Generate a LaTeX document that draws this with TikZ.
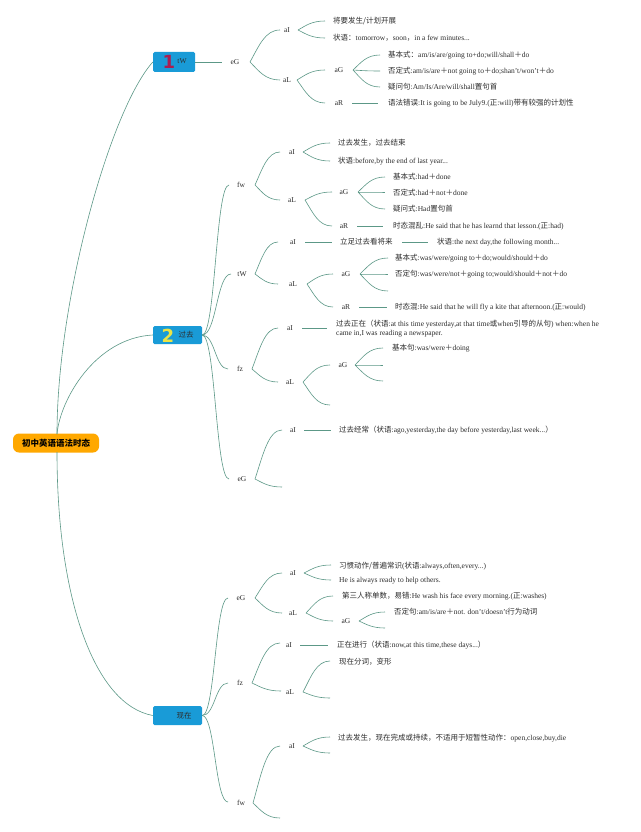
\documentclass[tikz,border=0pt]{standalone}
\usepackage{fontspec}
\setmainfont{Liberation Serif}
\newfontfamily\cjk{Noto Sans CJK SC}
\newfontfamily\digf{DejaVu Sans}
\usetikzlibrary{calc}
\definecolor{linkc}{RGB}{92,152,135}
\definecolor{boxc}{RGB}{25,155,215}
\definecolor{rootc}{RGB}{255,168,0}
\definecolor{txtc}{RGB}{45,45,45}
\definecolor{redc}{RGB}{170,30,80}
\definecolor{yelc}{RGB}{235,228,70}
\newcommand\zh[1]{{\cjk #1}}
\tikzset{
  lk/.style={draw=linkc, line width=0.6pt},
  fork/.style={to path={let \p1=(\tikztostart),\p2=(\tikztotarget) in
     .. controls ({\x1+0.3*(\x2-\x1)},{\y1+0.5*(\y2-\y1)}) and ({\x1+0.5*(\x2-\x1)},\y2) .. (\tikztotarget)}},
  scurve/.style={to path={let \p1=(\tikztostart),\p2=(\tikztotarget) in
     .. controls ({0.5*\x1+0.5*\x2},\y1) and ({0.5*\x1+0.5*\x2},\y2) .. (\tikztotarget)}},
  lb/.style={inner sep=0pt, font=\fontsize{7.5}{9}\selectfont, text=txtc},
  tx/.style={anchor=west, inner sep=0pt, font=\fontsize{7.5}{9}\selectfont, text=txtc},
  mbox/.style={fill=boxc, rounded corners=1.5pt, inner sep=0pt},
  rootbox/.style={fill=rootc, rounded corners=6pt, minimum width=86pt, minimum height=19pt, inner sep=0pt, font=\fontsize{8.5}{10}\selectfont, text=black},
  dig/.style={inner sep=0pt, font=\digf\bfseries\fontsize{18}{18}\selectfont},
}
\begin{document}
\begin{tikzpicture}[x=1pt,y=-1pt]
\useasboundingbox (0,0) rectangle (640,832);
\fill[white] (0,0) rectangle (640,832);

% root
\node[rootbox] (root) at (56,443) {\zh{\bfseries 初中英语语法时态}};
\coordinate (rT) at (57,434);
\coordinate (rB) at (57,452);

% main boxes
\node[mbox, minimum width=42pt, minimum height=20pt] (b1) at (174,62) {};
\node[mbox, minimum width=49pt, minimum height=18pt] (b2) at (177.5,335) {};
\node[mbox, minimum width=49pt, minimum height=19pt] (b3) at (177.5,715.5) {};
\node[dig, text=redc] (d1) at (169,62) {1};
\node[lb] (b1t) at (182,61) {tW};
\node[dig, text=yelc] (d2) at (168,335.5) {2};
\node[lb] (b2t) at (186,335) {\zh{过去}};
\node[lb] (b3t) at (184,716) {\zh{现在}};

\draw[lk] (rT) .. controls (57,300) and (110,110) .. (b1.west);
\draw[lk] (rT) .. controls (60,400) and (95,338) .. (b2.west);
\draw[lk] (rB) .. controls (57,600) and (95,705) .. (b3.west);

% ===== branch 1 =====
\coordinate (e1) at (222,62);
\draw[lk] (b1.east) -- (e1);
\node[lb] (n1) at (235,62) {eG};
\coordinate (f1) at (250,62);
\node[lb] (n11) at (287,30) {aI};
\coordinate (i11) at (280,30); \coordinate (f11) at (298,30);
\node[lb] (n12) at (287,80) {aL};
\coordinate (i12) at (280,80); \coordinate (f12) at (297,80);
\draw[lk] (f1) to[fork] (i11);
\draw[lk] (f1) to[fork] (i12);
\coordinate (c111) at (325,21); \coordinate (c112) at (325,38);
\draw[lk] (f11) to[fork] (c111);
\draw[lk] (f11) to[fork] (c112);
\node[tx] (t111) at (333,21) {\zh{将要发生/计划开展}};
\node[tx] (t112) at (333,38) {\zh{状语：}tomorrow\zh{，}soon\zh{，}in a few minutes...};
\node[lb] (n121) at (339,70) {aG};
\coordinate (i121) at (325,70); \coordinate (f121) at (353,70);
\node[lb] (n122) at (339,103) {aR};
\coordinate (i122) at (325,103); \coordinate (f122) at (352,103);
\draw[lk] (f12) to[fork] (i121);
\draw[lk] (f12) to[fork] (i122);
\coordinate (c1211) at (380,55); \coordinate (c1212) at (380,71); \coordinate (c1213) at (380,87);
\draw[lk] (f121) to[fork] (c1211);
\draw[lk] (f121) to[fork] (c1212);
\draw[lk] (f121) to[fork] (c1213);
\node[tx] (t1211) at (388,55) {\zh{基本式：}am/is/are/going to+do;will/shall\zh{＋}do};
\node[tx] (t1212) at (388,71) {\zh{否定式}:am/is/are\zh{＋}not going to\zh{＋}do;shan't/won't\zh{＋}do};
\node[tx] (t1213) at (388,87) {\zh{疑问句}:Am/Is/Are/will/shall\zh{置句首}};
\coordinate (c1221) at (378,103);
\draw[lk] (f122) -- (c1221);
\node[tx] (t1221) at (388,103) {\zh{语法错误}:It is going to be July9.(\zh{正}:will)\zh{带有较强的计划性}};

% ===== branch 2 =====
% fw
\node[lb] (p1) at (241,185) {fw};
\coordinate (pi1) at (229,185); \coordinate (pf1) at (255,185);
\draw[lk] (b2.east) to[scurve] (pi1);
\node[lb] (p11) at (292,152) {aI};
\coordinate (pi11) at (280,152); \coordinate (pf11) at (303,152);
\node[lb] (p12) at (292,200) {aL};
\coordinate (pi12) at (280,200); \coordinate (pf12) at (305,200);
\draw[lk] (pf1) to[fork] (pi11);
\draw[lk] (pf1) to[fork] (pi12);
\coordinate (pc111) at (330,143); \coordinate (pc112) at (330,161);
\draw[lk] (pf11) to[fork] (pc111);
\draw[lk] (pf11) to[fork] (pc112);
\node[tx] (pt111) at (338,143) {\zh{过去发生，过去结束}};
\node[tx] (pt112) at (338,161) {\zh{状语}:before,by the end of last year...};
\node[lb] (p121) at (344,192) {aG};
\coordinate (pi121) at (332,192); \coordinate (pf121) at (358,192);
\node[lb] (p122) at (344,226) {aR};
\coordinate (pi122) at (332,226); \coordinate (pf122) at (357,226);
\draw[lk] (pf12) to[fork] (pi121);
\draw[lk] (pf12) to[fork] (pi122);
\coordinate (pc1211) at (385,177); \coordinate (pc1212) at (385,192); \coordinate (pc1213) at (385,209);
\draw[lk] (pf121) to[fork] (pc1211);
\draw[lk] (pf121) to[fork] (pc1212);
\draw[lk] (pf121) to[fork] (pc1213);
\node[tx] (pt1211) at (393,177) {\zh{基本式}:had\zh{＋}done};
\node[tx] (pt1212) at (393,193) {\zh{否定式}:had\zh{＋}not\zh{＋}done};
\node[tx] (pt1213) at (393,209) {\zh{疑问式}:Had\zh{置句首}};
\coordinate (pc1221) at (383,226);
\draw[lk] (pf122) -- (pc1221);
\node[tx] (pt1221) at (393,226) {\zh{时态混乱}:He said that he has learnd that lesson.(\zh{正}:had)};

% tW
\node[lb] (p2) at (242,274) {tW};
\coordinate (pi2) at (231,274); \coordinate (pf2) at (255,274);
\draw[lk] (b2.east) to[scurve] (pi2);
\node[lb] (p21) at (293,242) {aI};
\coordinate (pi21) at (278,242); \coordinate (pf21) at (305,242);
\node[lb] (p22) at (293,284) {aL};
\coordinate (pi22) at (278,284); \coordinate (pf22) at (307,284);
\draw[lk] (pf2) to[fork] (pi21);
\draw[lk] (pf2) to[fork] (pi22);
\coordinate (pc211) at (332,242);
\draw[lk] (pf21) -- (pc211);
\node[tx] (pt211) at (340,242) {\zh{立足过去看将来}};
\coordinate (pf211) at (402,242); \coordinate (pc2111) at (428,242);
\draw[lk] (pf211) -- (pc2111);
\node[tx] (pt2111) at (437,242) {\zh{状语}:the next day,the following month...};
\node[lb] (p221) at (346,274) {aG};
\coordinate (pi221) at (333,274); \coordinate (pf221) at (360,274);
\node[lb] (p222) at (346,307) {aR};
\coordinate (pi222) at (333,307); \coordinate (pf222) at (359,307);
\draw[lk] (pf22) to[fork] (pi221);
\draw[lk] (pf22) to[fork] (pi222);
\coordinate (pc2211) at (388,258); \coordinate (pc2212) at (388,274); \coordinate (pc2213) at (388,291);
\draw[lk] (pf221) to[fork] (pc2211);
\draw[lk] (pf221) to[fork] (pc2212);
\draw[lk] (pf221) to[fork] (pc2213);
\node[tx] (pt2211) at (395,258) {\zh{基本式}:was/were/going to\zh{＋}do;would/should\zh{＋}do};
\node[tx] (pt2212) at (395,274) {\zh{否定句}:was/were/not\zh{＋}going to;would/should\zh{＋}not\zh{＋}do};
\coordinate (pc2221) at (387,307);
\draw[lk] (pf222) -- (pc2221);
\node[tx] (pt2221) at (395,307) {\zh{时态混}:He said that he will fly a kite that afternoon.(\zh{正}:would)};

% fz
\node[lb] (p3) at (240,369) {fz};
\coordinate (pi3) at (228,369); \coordinate (pf3) at (252,369);
\draw[lk] (b2.east) to[scurve] (pi3);
\node[lb] (p31) at (290,328) {aI};
\coordinate (pi31) at (278,328); \coordinate (pf31) at (302,328);
\node[lb] (p32) at (290,382) {aL};
\coordinate (pi32) at (278,382); \coordinate (pf32) at (303,382);
\draw[lk] (pf3) to[fork] (pi31);
\draw[lk] (pf3) to[fork] (pi32);
\coordinate (pc311) at (327,328);
\draw[lk] (pf31) -- (pc311);
\node[tx, align=left] (pt311) at (336,328.5) {\zh{过去正在（状语}:at this time yesterday,at that time\zh{或}when\zh{引导的从句}) when:when he\\came in,I was reading a newspaper.};
\node[lb] (p321) at (343,365) {aG};
\coordinate (pi321) at (330,365); \coordinate (pf321) at (355,365);
\coordinate (pc322) at (330,405);
\draw[lk] (pf32) to[fork] (pi321);
\draw[lk] (pf32) to[fork] (pc322);
\coordinate (pc3211) at (383,348); \coordinate (pc3212) at (383,365); \coordinate (pc3213) at (383,381);
\draw[lk] (pf321) to[fork] (pc3211);
\draw[lk] (pf321) to[fork] (pc3212);
\draw[lk] (pf321) to[fork] (pc3213);
\node[tx] (pt3211) at (392,348) {\zh{基本句}:was/were\zh{＋}doing};

% eG
\node[lb] (p4) at (242,479) {eG};
\coordinate (pi4) at (229,479); \coordinate (pf4) at (255,479);
\draw[lk] (b2.east) to[scurve] (pi4);
\node[lb] (p41) at (293,430) {aI};
\coordinate (pi41) at (282,430); \coordinate (pf41) at (304,430);
\coordinate (pc42) at (282,487);
\draw[lk] (pf4) to[fork] (pi41);
\draw[lk] (pf4) to[fork] (pc42);
\coordinate (pc411) at (331,430);
\draw[lk] (pf41) -- (pc411);
\node[tx] (pt411) at (339,430) {\zh{过去经常（状语}:ago,yesterday,the day before yesterday,last week...\zh{）}};

% ===== branch 3 =====
% eG
\node[lb] (q1) at (241,598) {eG};
\coordinate (qi1) at (228,598); \coordinate (qf1) at (255,598);
\draw[lk] (b3.east) to[scurve] (qi1);
\node[lb] (q11) at (293,573) {aI};
\coordinate (qi11) at (282,573); \coordinate (qf11) at (304,573);
\node[lb] (q12) at (293,613) {aL};
\coordinate (qi12) at (282,613); \coordinate (qf12) at (306,613);
\draw[lk] (qf1) to[fork] (qi11);
\draw[lk] (qf1) to[fork] (qi12);
\coordinate (qc111) at (331,565); \coordinate (qc112) at (331,580);
\draw[lk] (qf11) to[fork] (qc111);
\draw[lk] (qf11) to[fork] (qc112);
\node[tx] (qt111) at (339,566) {\zh{习惯动作/普遍常识}(\zh{状语}:always,often,every...)};
\node[tx] (qt112) at (339,581) {He is always ready to help others.};
\coordinate (qc121) at (333,596);
\node[lb] (q122) at (346,621) {aG};
\coordinate (qi122) at (333,621); \coordinate (qf122) at (359,621);
\draw[lk] (qf12) to[fork] (qc121);
\draw[lk] (qf12) to[fork] (qi122);
\node[tx] (qt121) at (342,596) {\zh{第三人称单数，易错}:He wash his face every morning.(\zh{正}:washes)};
\coordinate (qc1221) at (385,612); \coordinate (qc1222) at (385,628);
\draw[lk] (qf122) to[fork] (qc1221);
\draw[lk] (qf122) to[fork] (qc1222);
\node[tx] (qt1221) at (394,612) {\zh{否定句}:am/is/are\zh{＋}not. don't/doesn't\zh{行为动词}};

% fz
\node[lb] (q2) at (240,683) {fz};
\coordinate (qi2) at (228,683); \coordinate (qf2) at (252,683);
\draw[lk] (b3.east) to[scurve] (qi2);
\node[lb] (q21) at (289,645) {aI};
\coordinate (qi21) at (280,643); \coordinate (qf21) at (300,645);
\node[lb] (q22) at (290,692) {aL};
\coordinate (qi22) at (281,691); \coordinate (qf22) at (303,692);
\draw[lk] (qf2) to[fork] (qi21);
\draw[lk] (qf2) to[fork] (qi22);
\coordinate (qc211) at (328,645);
\draw[lk] (qf21) -- (qc211);
\node[tx] (qt211) at (337,645) {\zh{正在进行（状语}:now,at this time,these days...\zh{）}};
\coordinate (qc221) at (330,661); \coordinate (qc222) at (330,698);
\draw[lk] (qf22) to[fork] (qc221);
\draw[lk] (qf22) to[fork] (qc222);
\node[tx] (qt221) at (339,662) {\zh{现在分词，变形}};

% fw
\node[lb] (q3) at (241,803) {fw};
\coordinate (qi3) at (228,802); \coordinate (qf3) at (253,803);
\draw[lk] (b3.east) to[scurve] (qi3);
\node[lb] (q31) at (292,746) {aI};
\coordinate (qi31) at (280,746); \coordinate (qf31) at (303,746);
\coordinate (qc32) at (280,818);
\draw[lk] (qf3) to[fork] (qi31);
\draw[lk] (qf3) to[fork] (qc32);
\coordinate (qc311) at (330,737); \coordinate (qc312) at (330,753);
\draw[lk] (qf31) to[fork] (qc311);
\draw[lk] (qf31) to[fork] (qc312);
\node[tx] (qt311) at (338,738) {\zh{过去发生，现在完成或持续，不适用于短暂性动作：}open,close,buy,die};
\end{tikzpicture}
\end{document}
